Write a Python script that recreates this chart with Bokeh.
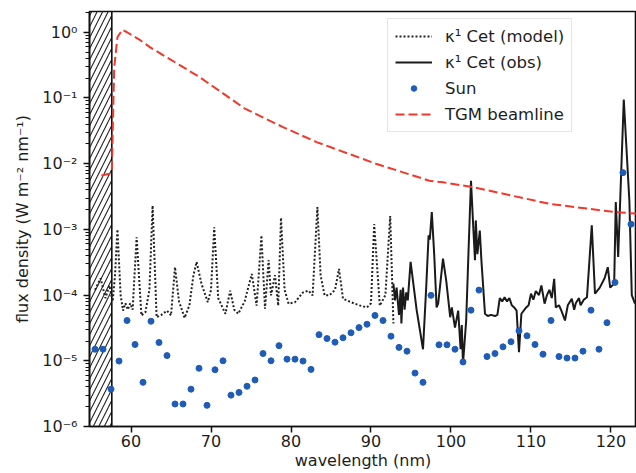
from bokeh.plotting import figure
from bokeh.embed import file_html
from bokeh.resources import INLINE
from bokeh.models import (Range1d, Legend, LegendItem, SingleIntervalTicker,
                          CustomJSTickFormatter)

# ---------------- data ----------------
sun_wl = [55.5, 56.5, 57.5, 58.5, 59.5, 60.5, 61.5, 62.5, 63.5, 64.5, 65.5, 66.5,
          67.5, 68.5, 69.5, 70.5, 71.5, 72.5, 73.5, 74.5, 75.5, 76.5, 77.5, 78.5,
          79.5, 80.5, 81.5, 82.5, 83.5, 84.5, 85.5, 86.5, 87.5, 88.5, 89.5, 90.5,
          91.5, 92.5, 93.5, 94.5, 95.5, 96.5, 97.5, 98.5, 99.5, 100.5, 101.5, 102.5,
          103.5, 104.5, 105.5, 106.5, 107.5, 108.5, 109.5, 110.5, 111.5, 112.5, 113.5,
          114.5, 115.5, 116.5, 117.5, 118.5, 119.5, 120.5, 121.5, 122.5]
sun_flux = [1.5e-5, 1.5e-5, 3.7e-6, 9.9e-6, 4.1e-5, 1.77e-5, 4.7e-6, 4.0e-5, 1.9e-5, 1.2e-5,
            2.2e-6, 2.2e-6, 3.7e-6, 7.7e-6, 2.1e-6, 7.3e-6, 1.0e-5, 3.0e-6, 3.3e-6, 4.1e-6,
            5.1e-6, 1.29e-5, 1.0e-5, 1.7e-5, 1.06e-5, 1.06e-5, 9.9e-6, 7.4e-6, 2.5e-5,
            2.18e-5, 1.92e-5, 2.24e-5, 2.67e-5, 3.2e-5, 3.6e-5, 4.9e-5, 4.1e-5, 2.37e-5,
            1.6e-5, 1.4e-5, 6.5e-6, 4.7e-6, 9.9e-5, 1.75e-5, 1.75e-5, 1.5e-5, 9.6e-6,
            5.9e-5, 1.19e-4, 1.16e-5, 1.29e-5, 1.63e-5, 1.95e-5, 2.86e-5, 2.4e-5, 1.77e-5,
            1.26e-5, 4.1e-5, 1.16e-5, 1.1e-5, 1.1e-5, 1.4e-5, 5.9e-5, 1.5e-5, 3.8e-5,
            1.56e-4, 7.3e-3, 1.2e-3]

model_wl = [55.5, 56.2, 56.8, 57.3, 57.7, 58.0, 58.3, 58.7, 59.0, 59.3, 59.6, 59.9,
            60.2, 60.7, 61.3, 61.8, 62.3, 62.7, 63.2, 63.8, 64.5, 65.0, 65.5, 66.0,
            66.7, 67.3, 67.8, 68.2, 68.8, 69.6, 70.0, 70.4, 70.9, 71.8, 72.4, 72.9,
            73.4, 74.2, 75.1, 75.7, 76.3, 76.75, 77.2, 77.5, 78.0, 78.4, 78.75, 79.2,
            79.7, 80.5, 81.5, 82.2, 82.7, 83.3, 83.7, 84.2, 84.8, 85.5, 86.0, 86.5,
            87.5, 88.5, 89.5, 90.0, 90.4, 91.1, 91.8, 92.4, 92.8]
model_flux = [1.2e-4, 1.8e-4, 9e-5, 1.4e-4, 8e-5, 2.0e-4, 1.0e-3, 1.0e-4, 5.8e-5, 7.5e-5,
              6e-5, 7.5e-5, 6e-5, 7.6e-4, 4.9e-5, 5.5e-5, 1.2e-4, 2.3e-3, 4.6e-5, 5e-5,
              5.8e-5, 4.9e-5, 2.66e-4, 8e-5, 4.5e-5, 7e-5, 2e-4, 3.2e-4, 1.5e-4, 7.8e-5,
              1.2e-4, 1.08e-3, 9e-5, 5.2e-5, 1.17e-4, 6e-5, 5.2e-5, 8e-5, 2.1e-4, 6.9e-5,
              8.1e-4, 6.2e-5, 3.4e-4, 9.9e-5, 2e-4, 6.9e-5, 1.5e-3, 1.2e-4, 7.4e-5, 7.8e-5,
              1.1e-4, 1.17e-4, 9.9e-5, 2.18e-3, 2e-4, 9.9e-5, 9.9e-5, 1.2e-4, 2.5e-4, 8.8e-5,
              7.8e-5, 7e-5, 6.5e-5, 7.5e-5, 1.2e-3, 6.9e-5, 1.0e-4, 1.6e-3, 3.7e-5]

obs_wl = [92.8, 93.0, 93.2, 93.5, 93.7, 93.8, 94.0, 94.2, 94.4, 94.6, 94.95, 95.7,
          96.5, 96.9, 97.2, 97.35, 97.6, 97.9, 98.2, 98.4, 99.0, 99.4, 99.9, 100.1,
          100.5, 100.9, 101.2, 101.35, 101.5, 101.9, 102.2, 102.5, 102.8, 103.0, 103.1,
          103.3, 103.6, 103.8, 104.25, 104.6, 105.0, 105.5, 105.8, 106.1, 106.4, 106.7,
          107.0, 107.3, 107.6, 107.9, 108.2, 108.5, 108.8, 109.4, 109.7, 110.0, 110.3,
          110.6, 111.0, 111.3, 111.7, 112.0, 112.3, 112.6, 112.9, 113.1, 113.5, 113.8,
          114.25, 114.6, 115.1, 115.4, 115.6, 116.0, 116.2, 116.6, 117.0, 117.6, 118.0,
          118.6, 119.2, 119.6, 119.9, 120.4, 120.6, 120.9, 121.6, 122.3, 122.6, 123.0]
obs_flux = [1.49e-4, 8.3e-5, 1.3e-4, 5e-5, 1.2e-4, 3.7e-5, 1.3e-4, 6e-5, 1.1e-4, 8.3e-5,
            3.2e-4, 6e-5, 1.5e-5, 1.3e-4, 8.1e-4, 7e-4, 1.83e-3, 4.2e-4, 6.5e-5, 7.5e-5,
            3.6e-4, 1.67e-4, 4.6e-5, 6.5e-5, 3.2e-5, 5.8e-5, 1.5e-5, 3.5e-5, 9e-6, 4.1e-5,
            5e-4, 5.5e-3, 1.0e-3, 3.4e-4, 1.37e-3, 4.2e-4, 9.6e-4, 3.4e-4, 5.2e-5, 4.8e-5,
            5e-5, 4.8e-5, 5e-5, 9e-5, 8e-5, 9.3e-5, 8e-5, 9e-5, 7e-5, 6.5e-5, 5.8e-5,
            1.35e-5, 5.2e-5, 6.5e-5, 7e-5, 1.05e-4, 8.5e-5, 1.15e-4, 1e-4, 1.4e-4, 7.4e-5,
            1e-4, 1.2e-4, 9e-5, 1.77e-4, 6.5e-5, 7e-5, 5.8e-5, 4.1e-5, 7e-5, 8.8e-5, 6e-5,
            7.5e-5, 9e-5, 7e-5, 8.5e-5, 9.3e-5, 1.15e-3, 1.05e-4, 1.3e-4, 1.8e-4, 2.66e-4,
            1.3e-4, 1.5e-4, 2.6e-3, 3.8e-4, 0.095, 2.7e-3, 1.0e-4, 7.4e-5]

tgm_wl = [56.3, 57.3, 57.6, 57.9, 58.3, 58.9, 59.5, 61.2, 62.4, 68.6, 74.25, 79.0,
          83.2, 90.6, 97.3, 99.0, 102.8, 112.3, 120.6, 123.1]
tgm_flux = [6.6e-3, 7.0e-3, 8.0e-3, 0.29, 0.84, 1.09, 1.0, 0.75, 0.59, 0.207, 0.0686,
            0.036, 0.0213, 0.01, 5.5e-3, 5.2e-3, 4.38e-3, 2.45e-3, 1.83e-3, 1.74e-3]

cutoff_wl = [54.0, 57.6]   # hatched (inaccessible) band

x_ticks_interval = 10

# ---------------- figure ----------------
FONT = "DejaVu Sans"
TXT = "#1e1e1e"

p = figure(width=636, height=473, y_axis_type="log",
           x_range=Range1d(54.81, 123.19), y_range=Range1d(1e-6, 2.07),
           output_backend="svg", toolbar_location=None,
           min_border_left=89, min_border_right=0, min_border_top=11,
           min_border_bottom=47)
p.outline_line_color = "#111111"
p.outline_line_width = 1.6
p.xgrid.grid_line_color = None
p.ygrid.grid_line_color = None
p.background_fill_color = "white"

# hatched band
p.quad(left=[cutoff_wl[0]], right=[cutoff_wl[1]], bottom=[1e-7], top=[10.0],
       fill_color=None, hatch_pattern="/", hatch_color="#222222",
       hatch_scale=11, hatch_weight=1.1, line_color="#111111", line_width=1.6)

r_model = p.line(model_wl, model_flux, line_color="#222222", line_width=2,
                 line_dash="2 2")
r_obs = p.line(obs_wl, obs_flux, line_color="#1a1a1a", line_width=2)
r_sun = p.scatter(sun_wl, sun_flux, size=6, fill_color="#1f5cb8",
                  line_color="#1f5cb8")
r_tgm = p.line(tgm_wl, tgm_flux, line_color="#f2382b", line_width=2,
               line_dash="9 4")

# axes
for ax in (p.xaxis[0], p.yaxis[0]):
    ax.axis_line_color = "#111111"
    ax.axis_line_width = 1.6
    ax.major_tick_line_color = "#111111"
    ax.major_tick_line_width = 1.5
    ax.major_tick_out = 6
    ax.major_tick_in = 0
    ax.minor_tick_in = 0
    ax.major_label_text_font = FONT
    ax.major_label_text_font_size = "16px"
    ax.major_label_text_color = TXT
    ax.axis_label_text_font = FONT
    ax.axis_label_text_font_size = "16px"
    ax.axis_label_text_font_style = "normal"
    ax.axis_label_text_color = TXT

p.xaxis.ticker = SingleIntervalTicker(interval=x_ticks_interval, num_minor_ticks=0)
p.xaxis.minor_tick_line_color = None
p.xaxis.major_label_standoff = 2
p.xaxis.axis_label_standoff = 1
p.xaxis.axis_label = "wavelength (nm)"

p.yaxis.minor_tick_line_color = "#111111"
p.yaxis.minor_tick_line_width = 1
p.yaxis.minor_tick_out = 4
p.yaxis.major_label_standoff = 6
p.yaxis.axis_label_standoff = 7
p.yaxis.axis_label = "flux density (W m\u207b\u00b2 nm\u207b\u00b9)"
p.yaxis.formatter = CustomJSTickFormatter(code="""
const sup = {'-':'\u207b','0':'\u2070','1':'\u00b9','2':'\u00b2','3':'\u00b3',
             '4':'\u2074','5':'\u2075','6':'\u2076','7':'\u2077','8':'\u2078','9':'\u2079'};
const e = Math.round(Math.log10(tick));
return '10' + String(e).split('').map(c => sup[c]).join('');
""")

legend = Legend(items=[
    LegendItem(label="\u03ba\u00b9 Cet (model)", renderers=[r_model]),
    LegendItem(label="\u03ba\u00b9 Cet (obs)", renderers=[r_obs]),
    LegendItem(label="Sun", renderers=[r_sun]),
    LegendItem(label="TGM beamline", renderers=[r_tgm]),
], location=(298, 294))
legend.label_text_font = FONT
legend.label_text_font_size = "16.5px"
legend.label_text_color = TXT
legend.glyph_width = 37
legend.glyph_height = 14
legend.label_height = 20
legend.label_standoff = 13
legend.spacing = 6
legend.padding = 7
legend.margin = 0
legend.border_line_color = "#cccccc"
legend.border_line_width = 1
legend.background_fill_color = "white"
legend.background_fill_alpha = 0.85
p.add_layout(legend)

open("out.html", "w").write(file_html(p, INLINE))
